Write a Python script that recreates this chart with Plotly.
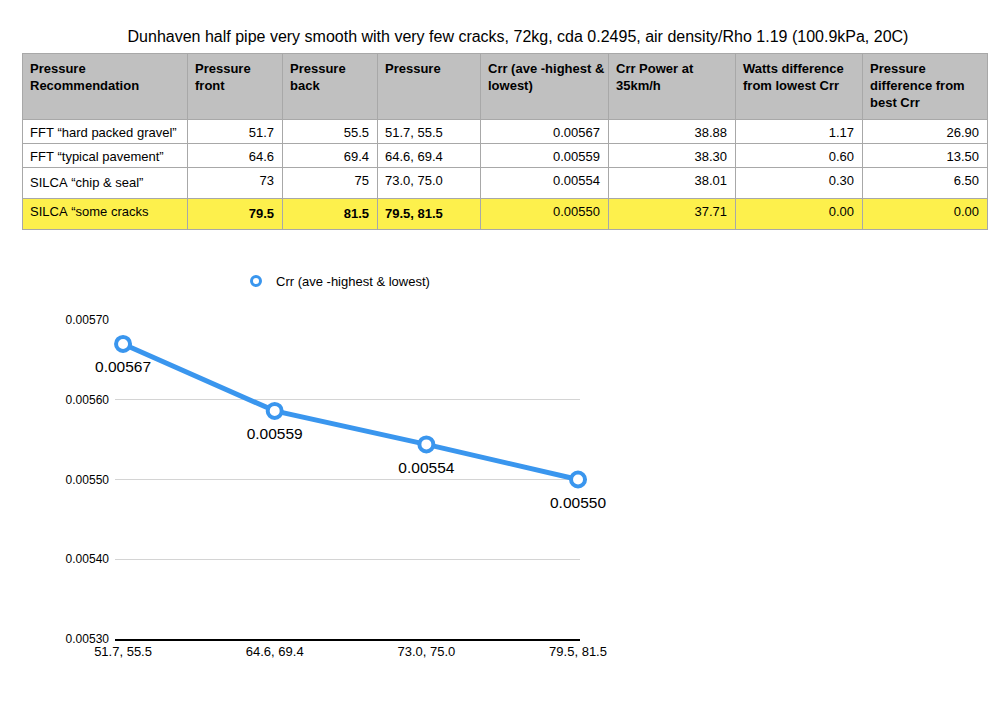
import plotly.graph_objects as go

W, H = 1007, 711

# ---- data ----
title = "Dunhaven half pipe very smooth with very few cracks, 72kg, cda 0.2495, air density/Rho 1.19 (100.9kPa, 20C)"
headers = ["Pressure<br>Recommendation", "Pressure<br>front", "Pressure<br>back", "Pressure",
           "Crr (ave -highest &<br>lowest)", "Crr Power at<br>35km/h", "Watts difference<br>from lowest Crr",
           "Pressure<br>difference from<br>best Crr"]
recommendation = ["FFT \u201chard packed gravel\u201d", "FFT \u201ctypical pavement\u201d",
                  "SILCA \u201cchip & seal\u201d", "SILCA \u201csome cracks"]
pressure_front = ["51.7", "64.6", "73", "79.5"]
pressure_back = ["55.5", "69.4", "75", "81.5"]
pressure = ["51.7, 55.5", "64.6, 69.4", "73.0, 75.0", "79.5, 81.5"]
crr_text = ["0.00567", "0.00559", "0.00554", "0.00550"]
crr_power = ["38.88", "38.30", "38.01", "37.71"]
watts_diff = ["1.17", "0.60", "0.30", "0.00"]
pressure_diff = ["26.90", "13.50", "6.50", "0.00"]

# chart values
chart_categories = pressure
crr_values = [0.00567, 0.005586, 0.005544, 0.00550]
series_name = "Crr (ave -highest & lowest)"
y_ticks = [0.0053, 0.0054, 0.0055, 0.0056, 0.0057]

BLUE = "#3a96ee"
YELLOW = "#fdf04c"
GRAY = "#c0c0c0"
FONT = "Liberation Sans, Arial, Helvetica, sans-serif"

def fmt(s, bold=False):
    s = s.replace("&", "&amp;").replace(" ", "\u00a0")
    return "<b>" + s + "</b>" if bold else s

columns = [recommendation, pressure_front, pressure_back, pressure,
           crr_text, crr_power, watts_diff, pressure_diff]
bold_cols = [False, True, True, True, False, False, False, False]
cell_values = [[fmt(v, b and i == len(col) - 1) for i, v in enumerate(col)]
               for col, b in zip(columns, bold_cols)]
aligns = ["left", "right", "right", "left", "right", "right", "right", "right"]
row_fill = ["white", "white", "white", YELLOW]

fig = go.Figure()

fig.add_trace(go.Table(
    domain=dict(x=[22 / W, 987 / W], y=[1 - 700 / H, 1 - 53 / H]),
    columnwidth=[165, 95, 95, 103, 128, 127, 127, 125],
    header=dict(values=["<b>" + h.replace("&", "&amp;") + "</b>" for h in headers],
                fill_color=GRAY, line_color="#a8a8a8", line_width=1,
                align="left", height=66,
                font=dict(family=FONT, size=13, color="black")),
    cells=dict(values=cell_values,
               fill_color=[row_fill] * 8, line_color="#a8a8a8", line_width=1,
               align=aligns, height=24,
               font=dict(family=FONT, size=13, color="black")),
))

fig.add_trace(go.Scatter(
    x=[0, 1, 2, 3], y=crr_values, mode="lines+markers",
    line=dict(color=BLUE, width=5),
    marker=dict(symbol="circle", size=14, color="white", line=dict(color=BLUE, width=4)),
    cliponaxis=False, showlegend=False, name=series_name,
))
# data labels (transparent, larger marker pushes the text further below the point)
fig.add_trace(go.Scatter(
    x=[0, 1, 2, 3], y=crr_values, mode="markers+text",
    marker=dict(symbol="circle", size=25, color="rgba(0,0,0,0)"),
    text=crr_values, texttemplate="%{y:.5f}", textposition="bottom center",
    textfont=dict(family=FONT, size=15.5, color="black"),
    cliponaxis=False, showlegend=False, hoverinfo="skip", name=series_name,
))
# legend entry (marker only, like the reference)
fig.add_trace(go.Scatter(
    x=[None], y=[None], mode="markers", name=series_name,
    marker=dict(symbol="circle", size=9, color="white", line=dict(color=BLUE, width=3)),
))

fig.update_layout(
    width=W, height=H,
    margin=dict(l=0, r=0, t=0, b=0, autoexpand=False),
    paper_bgcolor="white", plot_bgcolor="white",
    font=dict(family=FONT, color="black"),
    title=dict(text=title, x=518 / W, y=1 - 36 / H, xanchor="center", yanchor="middle",
               font=dict(family=FONT, size=16, color="black")),
    showlegend=True,
    legend=dict(x=236 / W, y=1 - 281 / H, xanchor="left", yanchor="middle",
                orientation="h", font=dict(family=FONT, size=13, color="black"),
                bgcolor="rgba(0,0,0,0)", itemwidth=30),
    xaxis=dict(domain=[115 / W, 580 / W], range=[-0.053, 3.013], automargin=False,
               tickmode="array", tickvals=[0, 1, 2, 3], ticktext=chart_categories,
               showgrid=False, zeroline=False, showline=True, linecolor="black", linewidth=1.5,
               ticks="", tickfont=dict(family=FONT, size=13, color="black"), fixedrange=True),
    yaxis=dict(domain=[1 - 639 / H, 1 - 320 / H], range=[0.0053, 0.0057], automargin=False,
               tickmode="array", tickvals=y_ticks, tickformat=".5f", ticklabelstandoff=5,
               showgrid=True, gridcolor="#d4d4d4", gridwidth=1, zeroline=False,
               showline=False, ticks="", tickfont=dict(family=FONT, size=12, color="black"),
               fixedrange=True),
)

fig.write_html("out.html")
